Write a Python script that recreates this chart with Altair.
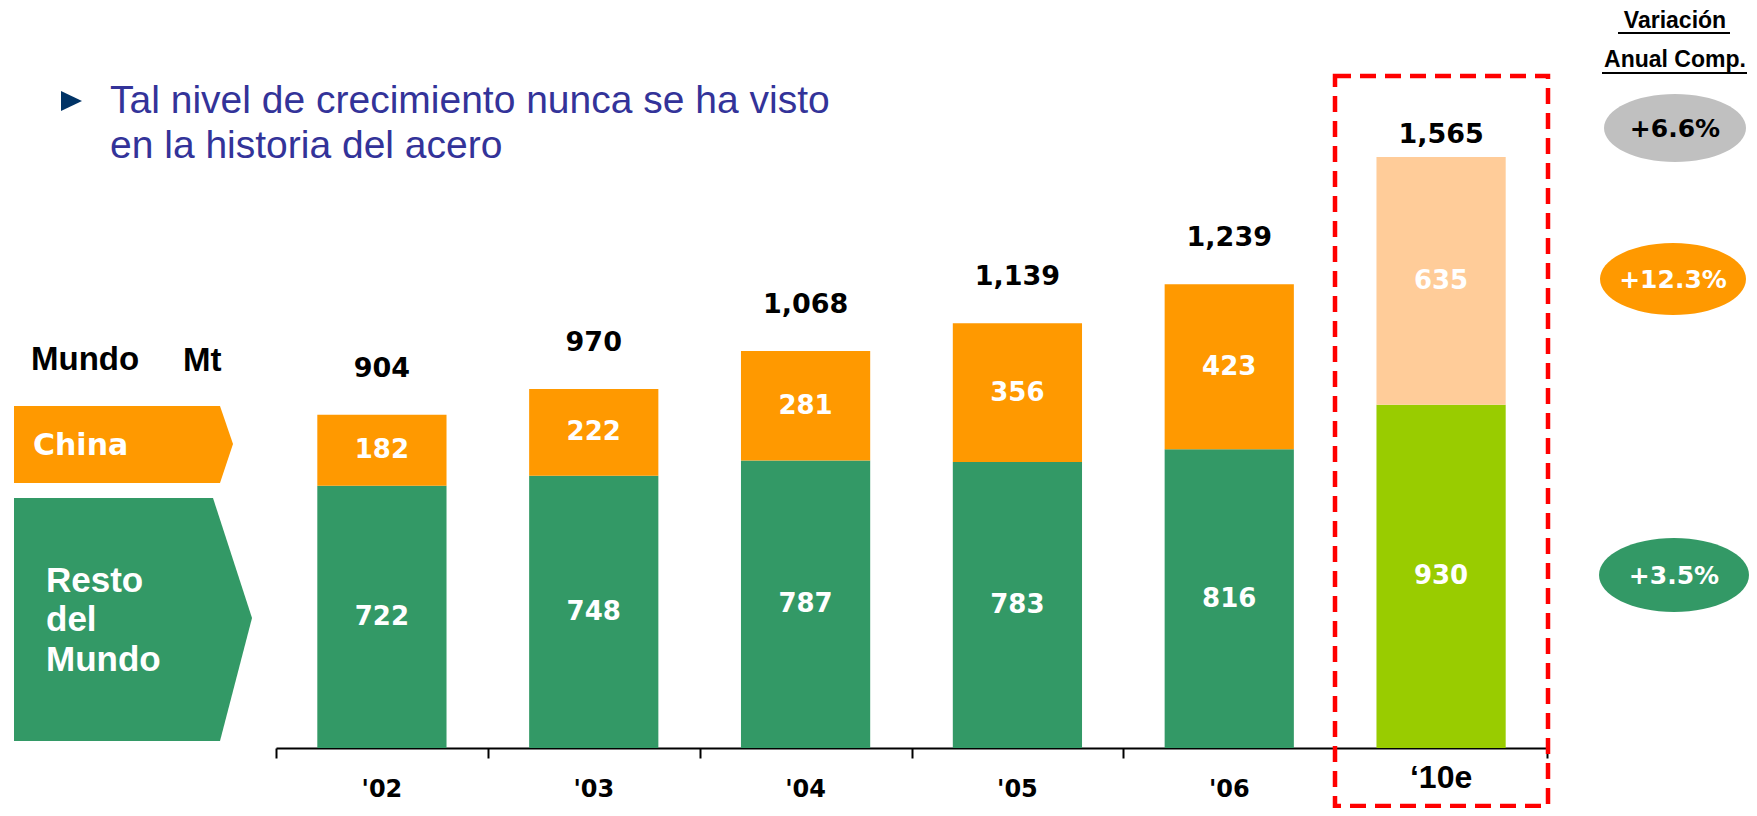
import altair as alt
import pandas as pd
import numpy as np

# ---------------- data ----------------
years = ["'02", "'03", "'04", "'05", "'06", "\u201810e"]
resto = [722, 748, 787, 783, 816, 930]
china = [182, 222, 281, 356, 423, 635]
totals = [904, 970, 1068, 1139, 1239, 1565]
cagr_labels = ["+6.6%", "+12.3%", "+3.5%"]
bullet_lines = ["Tal nivel de crecimiento nunca se ha visto", "en la historia del acero"]
header_lines = ["Variaci\u00f3n", "Anual Comp."]
left_labels = ["Mundo", "Mt", "China", "Resto", "del", "Mundo"]

# ---------------- styles ----------------
GREEN = "#339966"
ORANGE = "#FF9900"
PEACH = "#FFCC99"
LIME = "#99CC00"
GRAY = "#C0C0C0"
NAVY_TXT = "#333399"
Y_MIN = 50      # value at the baseline of the reference chart
Y_MAX = 1947

rows = []
for i, yr in enumerate(years):
    est = i == len(years) - 1
    rows.append(dict(year=yr, value=resto[i], start=0, end=resto[i],
                     key="Resto e" if est else "Resto"))
    rows.append(dict(year=yr, value=china[i], start=resto[i], end=resto[i] + china[i],
                     key="China e" if est else "China"))
df = pd.DataFrame(rows)
df["mid"] = (np.maximum(df["start"], Y_MIN) + df["end"]) / 2
tot_df = pd.DataFrame({"year": years, "total": totals})
one = pd.DataFrame({"k": [0]})

axis = alt.Axis(labels=False, title=None, tickBand="extent", domainColor="black",
                domainWidth=2, tickColor="black", tickWidth=2, tickSize=10, grid=False)
xscale = alt.Scale(domain=years, range=[268, 1539], paddingInner=0, paddingOuter=0)
xenc = alt.X("year:N", scale=xscale, axis=axis, title=None)
yscale = alt.Scale(domain=[Y_MIN, Y_MAX], zero=False, clamp=True, nice=False)

bars = alt.Chart(df).mark_bar(width=alt.RelativeBandSize(0.61)).encode(
    x=xenc,
    y=alt.Y("end:Q", scale=yscale, axis=None, title=None),
    y2="start:Q",
    color=alt.Color("key:N", legend=None,
                    scale=alt.Scale(domain=["Resto", "China", "Resto e", "China e"],
                                    range=[GREEN, ORANGE, LIME, PEACH])),
)

seg_text = alt.Chart(df).mark_text(font="DejaVu Sans", fontWeight="bold", fontSize=26,
                                   color="white", baseline="middle").encode(
    x=xenc, y=alt.Y("mid:Q", scale=yscale, axis=None, title=None), text="value:Q")

tot_hist = alt.Chart(tot_df.iloc[:-1]).mark_text(font="DejaVu Sans", fontWeight="bold",
                                                 fontSize=27, color="black",
                                                 baseline="middle", dy=-46).encode(
    x=xenc, y=alt.Y("total:Q", scale=yscale, axis=None, title=None),
    text=alt.Text("total:Q", format=","))
tot_est = alt.Chart(tot_df.iloc[-1:]).mark_text(font="DejaVu Sans", fontWeight="bold",
                                                fontSize=27, color="black",
                                                baseline="middle", dy=-22).encode(
    x=xenc, y=alt.Y("total:Q", scale=yscale, axis=None, title=None),
    text=alt.Text("total:Q", format=","))

yr_hist = alt.Chart(pd.DataFrame({"year": years[:-1]})).mark_text(
    font="DejaVu Sans", fontWeight="bold", fontSize=24, color="black", baseline="middle").encode(
    x=xenc, y=alt.value(782), text="year:N")
yr_est = alt.Chart(pd.DataFrame({"year": years[-1:]})).mark_text(
    font="Liberation Sans", fontWeight="bold", fontSize=32, color="black", baseline="middle").encode(
    x=xenc, y=alt.value(770), text="year:N")


def txt(text, x, y, size, color="black", font="Liberation Sans", weight="bold",
        align="left", baseline="middle"):
    return alt.Chart(one).mark_text(text=text, font=font, fontSize=size, fontWeight=weight,
                                    color=color, align=align, baseline=baseline).encode(
        x=alt.value(x), y=alt.value(y))


def shape(path, color, x=0, y=0):
    return alt.Chart(one).mark_point(shape=path, filled=True, size=4, fill=color,
                                     opacity=1, strokeWidth=0).encode(
        x=alt.value(x), y=alt.value(y))


def ellipse_path(a, b):
    k = 0.5523
    return (f"M {-a} 0 C {-a} {-k*b} {-k*a} {-b} 0 {-b} "
            f"C {k*a} {-b} {a} {-k*b} {a} 0 "
            f"C {a} {k*b} {k*a} {b} 0 {b} "
            f"C {-k*a} {b} {-a} {k*b} {-a} 0 Z")


def hline(x1, x2, y, color="black", width=2):
    return alt.Chart(one).mark_rule(color=color, strokeWidth=width).encode(
        x=alt.value(x1), x2=alt.value(x2), y=alt.value(y))


deco = [
    # bullet + statement
    shape("M -10 -10 L 11 0 L -10 10 Z", "#003366", 63, 93),
    txt(bullet_lines[0], 102, 105, 39, color=NAVY_TXT, weight="normal", baseline="alphabetic"),
    txt(bullet_lines[1], 102, 150, 39, color=NAVY_TXT, weight="normal", baseline="alphabetic"),
    # header on the right
    txt(header_lines[0], 1667, 13, 23, align="center"),
    hline(1610, 1722, 25),
    txt(header_lines[1], 1667, 52, 23, align="center"),
    hline(1594, 1739, 65),
    # growth ovals
    shape(ellipse_path(71, 34), GRAY, 1667, 120),
    txt(cagr_labels[0], 1667, 121, 25, font="DejaVu Sans", align="center"),
    shape(ellipse_path(73, 36), ORANGE, 1665, 271),
    txt(cagr_labels[1], 1665, 272, 25, color="white", font="DejaVu Sans", align="center"),
    shape(ellipse_path(75, 37), GREEN, 1666, 567),
    txt(cagr_labels[2], 1666, 568, 25, color="white", font="DejaVu Sans", align="center"),
    # left-hand labels
    txt(left_labels[0], 23, 352, 33),
    txt(left_labels[1], 175, 353, 33),
    shape("M 6 398 L 212 398 L 225 436 L 212 475 L 6 475 Z", ORANGE),
    txt(left_labels[2], 25, 438, 30, color="white", font="DejaVu Sans"),
    shape("M 6 490 L 205 490 L 244 610 L 212 733 L 6 733 Z", GREEN),
    txt(left_labels[3], 38, 584, 35, color="white", baseline="alphabetic"),
    txt(left_labels[4], 38, 623, 35, color="white", baseline="alphabetic"),
    txt(left_labels[5], 38, 663, 35, color="white", baseline="alphabetic"),
]

box = alt.Chart(one).mark_rect(fillOpacity=0, stroke="#FF0000", strokeWidth=4.5,
                               strokeDash=[16, 9]).encode(
    x=alt.value(1327), x2=alt.value(1540), y=alt.value(68), y2=alt.value(798))

chart = alt.layer(bars, seg_text, tot_hist, tot_est, yr_hist, yr_est, *deco, box).properties(
    width=1741, height=740,
    padding={"left": 0, "top": 0, "right": 0, "bottom": 60},
    autosize=alt.AutoSizeParams(type="none"),
    background="white",
).configure_view(stroke=None)

chart.save("out.html", embed_options={"renderer": "svg", "actions": False})
